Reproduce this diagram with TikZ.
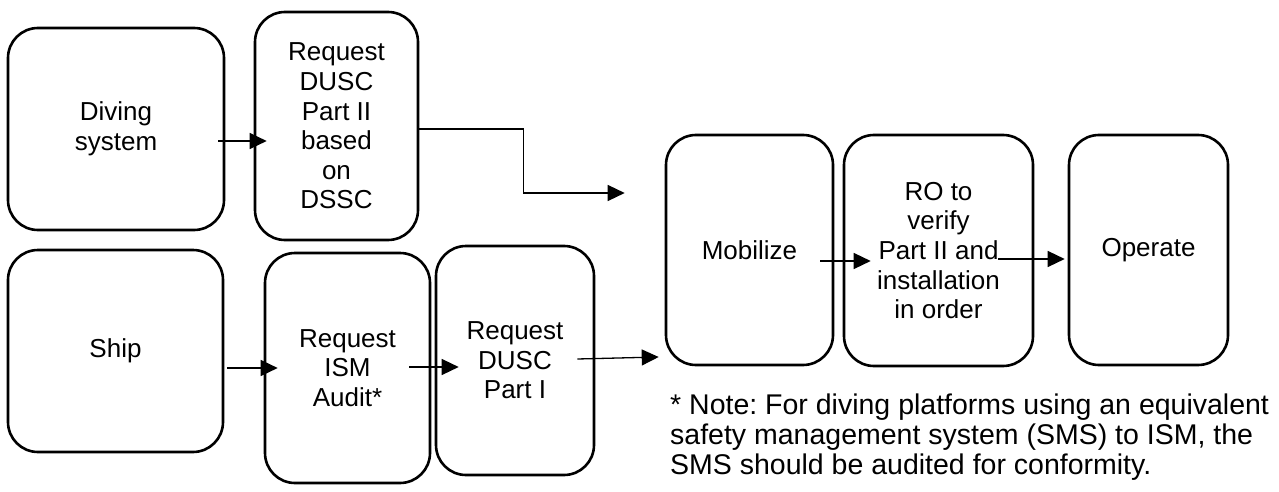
\documentclass[tikz,border=0pt]{standalone}
\usepackage{fontspec}
\setmainfont{Liberation Sans}
\usetikzlibrary{arrows.meta}
\usetikzlibrary{calc}
\frenchspacing

\begin{document}
\begin{tikzpicture}[x=1pt,y=-1pt,
    box/.style={draw,line width=2.6pt,rounded corners=30pt,align=center,inner sep=0pt,
      font=\fontsize{26}{29.6}\selectfont},
    arr/.style={line width=1.3pt,-{Triangle[length=17pt,width=16pt]}}]
  \useasboundingbox (0,0) rectangle (1279,492);
  % diving system branch
  \node[box,minimum width=216pt,minimum height=202pt] (div) at (116,129) {Diving\\system};
  \node[box,minimum width=163pt,minimum height=228pt] (dusc2) at (336.5,126) {Request\\DUSC\\Part II\\based\\on\\DSSC};
  % ship branch
  \node[box,minimum width=215pt,minimum height=202pt] (ship) at (115.5,351) {Ship};
  \node[box,minimum width=165pt,minimum height=230pt] (ism) at (347.5,368) {Request\\ISM\\Audit*};
  \node[box,minimum width=158pt,minimum height=229pt] (dusc1) at (515,360.5) {Request\\DUSC\\Part I};
  % common steps
  \node[box,minimum width=167pt,minimum height=230pt] (mob) at (749.5,250) {Mobilize};
  \node[box,minimum width=189pt,minimum height=231pt] (ro) at (938.5,250.5) {RO to\\verify\\Part II and\\installation\\in order};
  \node[box,minimum width=159pt,minimum height=230pt] (op) at (1148.5,250) {Operate};
  \node[anchor=base west,align=left,inner sep=0pt,font=\fontsize{28.5}{30}\selectfont] (note) at (670,474)
    {* Note: For diving platforms using an equivalent\\safety management system (SMS) to ISM, the\\SMS should be audited for conformity.};

  \draw[arr] ($(div.east)+(-7,12)$) -- ($(dusc2.west)+(13,15)$);
  \draw[arr] ($(dusc2.east)+(0,3)$) -- ++(104,0) |- ($(mob.west)+(-40,-57)$);
  \draw[arr] ($(ship.east)+(3,17)$) -- ($(ism.west)+(14,0)$);
  \draw[arr] ($(ism.east)+(-22,-1)$) -- ($(dusc1.west)+(24,6.5)$);
  \draw[arr] ($(dusc1.east)+(-18,-1.5)$) -- ($(mob.west)+(-6,107)$);
  \draw[arr] ($(mob.east)+(-14,11)$) -- ($(ro.west)+(28,10.5)$);
  \draw[arr] ($(ro.east)+(-36,8.5)$) -- ($(op.west)+(-3,9)$);
\end{tikzpicture}
\end{document}
